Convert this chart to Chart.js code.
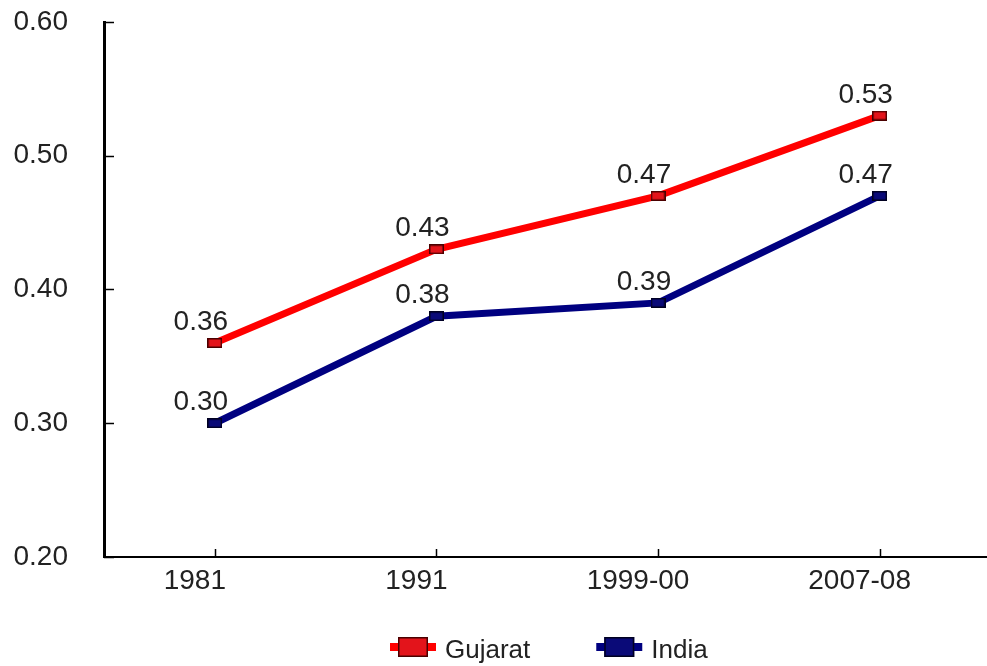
<!DOCTYPE html>
<html>
<head>
<meta charset="utf-8">
<script src="https://cdn.jsdelivr.net/npm/chart.js@4.4.1/dist/chart.umd.min.js"></script>
<style>
  html, body { margin: 0; padding: 0; background: #ffffff; }
  canvas { display: block; }
</style>
</head>
<body>
<canvas id="chart" width="987" height="666"></canvas>
<script>
// Years on the horizontal axis
const categories = ['1981', '1991', '1999-00', '2007-08'];
// Series values
const gujarat = [0.36, 0.43, 0.47, 0.53];
const india = [0.30, 0.38, 0.39, 0.47];
const seriesNames = ['Gujarat', 'India'];
// Value axis ticks
const yTicks = [0.20, 0.30, 0.40, 0.50, 0.60];

const FONT = '"Liberation Sans", Arial, sans-serif';
const FONT_SIZE = 28;
const LEGEND_FONT_SIZE = 26;
const TEXT = '#222222';
const SERIES_COLORS = ['#ff0000', '#000080'];
const MARKER_FILL = ['#e3141b', '#0a0a78'];
const MARKER_EDGE = ['#4a0000', '#000020'];

// Small flat rectangle used as point marker
function rectMarker(w, h, fill, edge) {
  const c = document.createElement('canvas');
  c.width = w; c.height = h;
  const g = c.getContext('2d');
  g.fillStyle = fill;
  g.fillRect(0, 0, w, h);
  g.strokeStyle = edge;
  g.lineWidth = 1.5;
  g.strokeRect(0.75, 0.75, w - 1.5, h - 1.5);
  return c;
}

// Short tick marks pointing into the plot area
const inwardTicks = {
  id: 'inwardTicks',
  afterDraw(chart) {
    const { ctx, chartArea: a, scales: { x, y } } = chart;
    ctx.save();
    ctx.strokeStyle = '#000';
    ctx.lineWidth = 1.5;
    y.ticks.forEach(t => {
      const py = Math.round(y.getPixelForValue(t.value)) + 0.5;
      ctx.beginPath();
      ctx.moveTo(a.left, py);
      ctx.lineTo(a.left + 10, py);
      ctx.stroke();
    });
    x.ticks.forEach(t => {
      const px = Math.round(x.getPixelForValue(t.value)) + 0.5;
      ctx.beginPath();
      ctx.moveTo(px, a.bottom);
      ctx.lineTo(px, a.bottom - 8);
      ctx.stroke();
    });
    ctx.restore();
  }
};

// Value labels above each point
const valueLabels = {
  id: 'valueLabels',
  afterDatasetsDraw(chart) {
    const { ctx } = chart;
    ctx.save();
    ctx.font = FONT_SIZE + 'px ' + FONT;
    ctx.fillStyle = TEXT;
    ctx.textAlign = 'center';
    ctx.textBaseline = 'alphabetic';
    chart.data.datasets.forEach((ds, di) => {
      chart.getDatasetMeta(di).data.forEach((pt, i) => {
        ctx.fillText(ds.data[i].y.toFixed(2), pt.x - 14, pt.y - 13);
      });
    });
    ctx.restore();
  }
};

// Legend row under the axis: line with marker, then series name
const bottomLegend = {
  id: 'bottomLegend',
  afterDraw(chart) {
    const { ctx } = chart;
    ctx.save();
    ctx.font = LEGEND_FONT_SIZE + 'px ' + FONT;
    ctx.textBaseline = 'alphabetic';
    let x = 388;
    const cy = 647;
    chart.data.datasets.forEach((ds, di) => {
      ctx.strokeStyle = SERIES_COLORS[di];
      ctx.lineWidth = 8;
      ctx.beginPath();
      ctx.moveTo(x + 2, cy);
      ctx.lineTo(x + 48, cy);
      ctx.stroke();
      ctx.fillStyle = MARKER_FILL[di];
      ctx.fillRect(x + 10, cy - 10, 30, 20);
      ctx.strokeStyle = MARKER_EDGE[di];
      ctx.lineWidth = 1.5;
      ctx.strokeRect(x + 10.75, cy - 9.25, 28.5, 18.5);
      x += 57;
      ctx.fillStyle = TEXT;
      ctx.textAlign = 'left';
      ctx.fillText(ds.label, x, 658);
      x += ctx.measureText(ds.label).width + 64;
    });
    ctx.restore();
  }
};

const seriesValues = [gujarat, india];

new Chart(document.getElementById('chart'), {
  type: 'line',
  data: {
    datasets: seriesValues.map((vals, di) => ({
      label: seriesNames[di],
      data: vals.map((v, i) => ({ x: i, y: v })),
      borderColor: SERIES_COLORS[di],
      borderWidth: 7,
      pointStyle: rectMarker(15, 10, MARKER_FILL[di], MARKER_EDGE[di]),
      pointRadius: 7,
      tension: 0,
      fill: false
    }))
  },
  options: {
    responsive: false,
    animation: false,
    devicePixelRatio: 1,
    layout: { autoPadding: false, padding: { top: 22, right: 1, bottom: 59, left: 0 } },
    plugins: { legend: { display: false }, tooltip: { enabled: false } },
    scales: {
      x: {
        type: 'linear',
        min: -0.5,
        max: 3.48,
        afterBuildTicks: s => { s.ticks = categories.map((c, i) => ({ value: i })); },
        afterFit: s => { s.height = 50; s.paddingLeft = 0; s.paddingRight = 0; },
        ticks: {
          callback: v => categories[v],
          font: { family: FONT, size: FONT_SIZE },
          color: TEXT,
          padding: 7,
          labelOffset: -20,
          maxRotation: 0,
          autoSkip: false
        },
        grid: { display: false, drawTicks: false },
        border: { display: true, color: '#000', width: 2 }
      },
      y: {
        min: 0.2,
        max: 0.6,
        afterBuildTicks: s => { s.ticks = yTicks.map(v => ({ value: v })); },
        afterFit: s => { s.width = 104; s.paddingTop = 0; s.paddingBottom = 0; },
        ticks: {
          callback: v => v.toFixed(2),
          font: { family: FONT, size: FONT_SIZE },
          color: TEXT,
          padding: 36
        },
        grid: { display: false, drawTicks: false },
        border: { display: true, color: '#000', width: 3 }
      }
    }
  },
  plugins: [inwardTicks, valueLabels, bottomLegend]
});
</script>
</body>
</html>
